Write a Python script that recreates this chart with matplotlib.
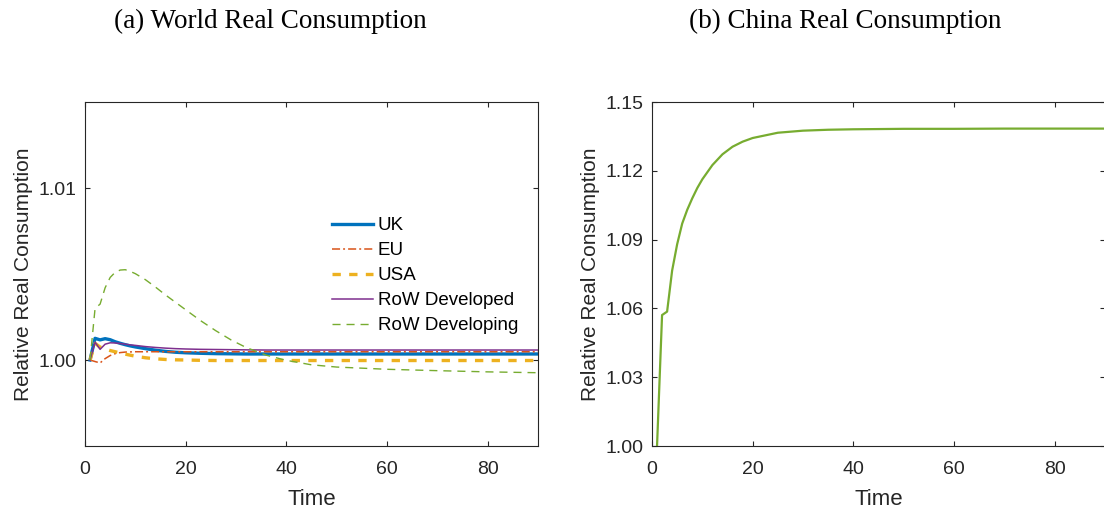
import numpy as np
import matplotlib
matplotlib.use("Agg")
import matplotlib.pyplot as plt

plt.rcParams['font.family'] = ['Liberation Sans', 'DejaVu Sans']
plt.rcParams['lines.scale_dashes'] = False

# Simulated paths, relative to the initial steady state
time_world = [1, 2, 3, 4, 5, 6, 7, 8, 9, 10, 12, 14, 16, 18, 20, 23, 26, 29, 32, 36,
              40, 45, 50, 60, 70, 80, 90]

uk = [1.0, 1.00126, 1.00117, 1.00124, 1.00118, 1.00106, 1.00097, 1.00089, 1.00082, 1.00076,
      1.00066, 1.00057, 1.00050, 1.00045, 1.00042, 1.00039, 1.00037, 1.00036, 1.00035, 1.00035,
      1.00035, 1.00035, 1.00035, 1.00035, 1.00035, 1.00035, 1.00035]
eu = [1.0, 0.99991, 0.99983, 1.00008, 1.00026, 1.00037, 1.00043, 1.00046, 1.00047, 1.00048,
      1.00048, 1.00048, 1.00048, 1.00048, 1.00048, 1.00048, 1.00048, 1.00048, 1.00048, 1.00048,
      1.00048, 1.00048, 1.00048, 1.00048, 1.00048, 1.00048, 1.00048]
usa = [1.0, 1.00097, 1.00075, 1.00065, 1.00055, 1.00048, 1.00041, 1.00034, 1.00028, 1.00022,
       1.00013, 1.00007, 1.00003, 1.00001, 1.00000, 0.99998, 0.99997, 0.99997, 0.99997, 0.99997,
       0.99997, 0.99997, 0.99997, 0.99997, 0.99997, 0.99997, 0.99997]
row_developed = [1.0, 1.00103, 1.00062, 1.00092, 1.00100, 1.00099, 1.00096, 1.00092, 1.00088, 1.00085,
                 1.00078, 1.00073, 1.00069, 1.00066, 1.00064, 1.00062, 1.00061, 1.00060, 1.00059, 1.00058,
                 1.00058, 1.00058, 1.00058, 1.00058, 1.00058, 1.00058, 1.00058]
row_developing = [1.0, 1.00300, 1.00325, 1.00420, 1.00480, 1.00510, 1.00523, 1.00525, 1.00515, 1.00502,
                  1.00467, 1.00424, 1.00378, 1.00335, 1.00292, 1.00228, 1.00170, 1.00117, 1.00073, 1.00028,
                  0.99998, 0.99972, 0.99959, 0.99946, 0.99938, 0.99931, 0.99926]

time_china = [1, 2, 3, 4, 5, 6, 7, 8, 9, 10, 12, 14, 16, 18, 20, 25, 30, 35, 40, 50, 60, 70, 80, 90]
china = [1.0000, 1.0571, 1.0586, 1.0765, 1.0880, 1.0970, 1.1030, 1.1080, 1.1125, 1.1163,
         1.1225, 1.1272, 1.1305, 1.1327, 1.1343, 1.1366, 1.1375, 1.1379, 1.1381, 1.1383,
         1.1383, 1.1384, 1.1384, 1.1384]

series_labels = ['UK', 'EU', 'USA', 'RoW Developed', 'RoW Developing']
world_yticks = [1.00, 1.01]
china_yticks = [1.00, 1.03, 1.06, 1.09, 1.12, 1.15]
xticks = [0, 20, 40, 60, 80]

# matlab default colour order
BLUE = '#0072BD'
ORANGE = '#D95319'
YELLOW = '#EDB120'
PURPLE = '#7E2F8E'
GREEN = '#77AC30'
DARK = '#262626'

W, H = 1104, 511


def style_axes(ax, yticks):
    for s in ax.spines.values():
        s.set_color(DARK)
        s.set_linewidth(0.8)
    ax.set_xlim(0, 90)
    ax.set_xticks(xticks)
    ax.set_yticks(yticks)
    ax.set_yticklabels(['%.2f' % v for v in yticks])
    ax.tick_params(direction='in', top=True, right=True, length=3.5, width=0.8,
                   colors=DARK, labelsize=14)
    ax.tick_params(axis='x', pad=11)
    ax.tick_params(axis='y', pad=6)
    ax.set_xlabel('Time', fontsize=16, color=DARK, labelpad=8)
    ax.set_ylabel('Relative Real Consumption', fontsize=15, color=DARK, labelpad=4)


fig = plt.figure(figsize=(W / 100, H / 100), dpi=100)

# (a) world panel
ax1 = fig.add_axes([85 / W, 65 / H, 453 / W, 344 / H])
ax1.plot(time_world, uk, color=BLUE, lw=2.4, label=series_labels[0])
ax1.plot(time_world, eu, color=ORANGE, lw=1.1, dashes=(5.8, 2.2, 1.4, 2.2), label=series_labels[1])
ax1.plot(time_world, usa, color=YELLOW, lw=2.4, dashes=(6, 6), label=series_labels[2])
ax1.plot(time_world, row_developed, color=PURPLE, lw=1.1, label=series_labels[3])
ax1.plot(time_world, row_developing, color=GREEN, lw=1.0, dashes=(5.8, 4.3), label=series_labels[4])
ax1.set_ylim(0.995, 1.015)
style_axes(ax1, world_yticks)

leg = ax1.legend(loc='upper left', bbox_to_anchor=(332 / W, 1 - 217 / H),
                 bbox_transform=fig.transFigure, frameon=False, fontsize=13.5,
                 borderpad=0, borderaxespad=0, handlelength=2.2, handletextpad=0.25,
                 labelspacing=0.42)
for t in leg.get_texts():
    t.set_color('black')

# (b) china panel
ax2 = fig.add_axes([652 / W, 65 / H, 453 / W, 344 / H])
ax2.plot(time_china, china, color=GREEN, lw=1.6)
ax2.set_ylim(1.00, 1.15)
style_axes(ax2, china_yticks)

fig.text(270 / W, 1 - 28 / H, '(a) World Real Consumption', ha='center', va='baseline',
         family='Liberation Serif', fontsize=19.5, color='black')
fig.text(845 / W, 1 - 28 / H, '(b) China Real Consumption', ha='center', va='baseline',
         family='Liberation Serif', fontsize=19.5, color='black')

fig.savefig('out.png', dpi=100)
